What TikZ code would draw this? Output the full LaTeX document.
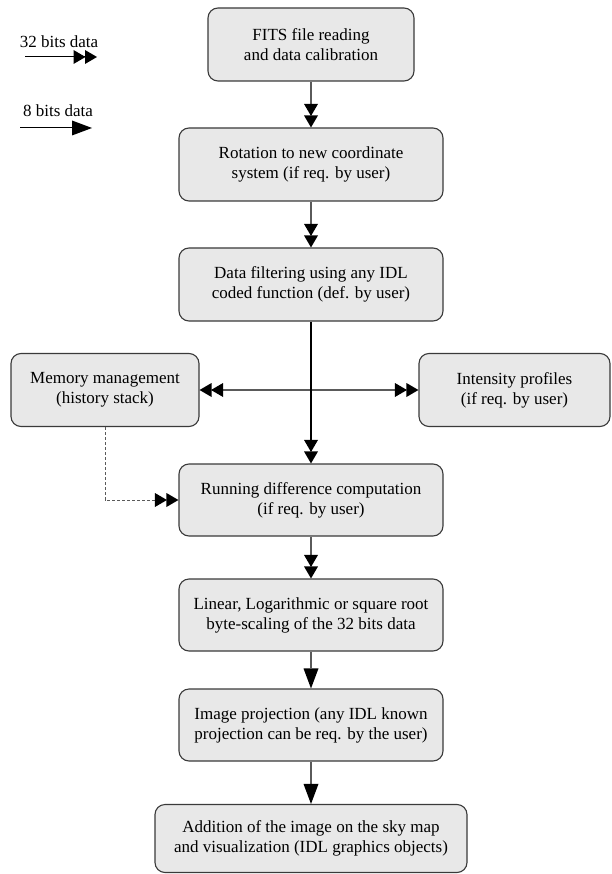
\documentclass[tikz,border=0pt]{standalone}
\usepackage{fontspec}
\setmainfont{Liberation Serif}
\usetikzlibrary{arrows.meta}
\definecolor{boxfill}{HTML}{E8E8E8}
\definecolor{boxline}{HTML}{3A3A3A}
\definecolor{conn}{HTML}{5A5A5A}
\begin{document}
\begin{tikzpicture}[x=1pt,y=-1pt,
  box/.style={draw=boxline, fill=boxfill, rounded corners=10pt, line width=1.1pt,
    align=center, inner sep=0pt, font=\fontsize{17}{20}\selectfont},
  lbl/.style={inner sep=0pt, font=\fontsize{17}{20}\selectfont},
  dtip/.tip={Triangle[length=12pt,width=14pt,sep=-0.5pt,color=black,fill=black,line width=0pt] Triangle[length=12pt,width=14pt,sep=0pt,color=black,fill=black,line width=0pt]},
  stip/.tip={Triangle[length=20pt,width=15pt,color=black,fill=black,line width=0pt]},
  connline/.style={draw=conn, line width=1.2pt},
  mainline/.style={draw=black, line width=2pt},
  dashline/.style={draw=conn, line width=0.9pt, dash pattern=on 3pt off 2pt},
  legline/.style={draw=black, line width=1pt}
]
\useasboundingbox (0,0) rectangle (611,874);

% legend
\node[lbl] (l32) at (59,42) {32 bits data};
\coordinate (l32a) at (25,57);
\coordinate (l32b) at (97,57);
\draw[legline,-dtip] (l32a) -- (l32b);
\node[lbl] (l8) at (58,111) {8 bits data};
\coordinate (l8a) at (20,128);
\coordinate (l8b) at (92,128);
\draw[legline,-stip] (l8a) -- (l8b);

% boxes
\node[box, minimum width=206pt, minimum height=73pt] (fits) at (311,44.5) {FITS file reading\\and data calibration};
\node[box, minimum width=264pt, minimum height=73pt] (rot) at (311,164.5) {Rotation to new coordinate\\system (if req. by user)};
\node[box, minimum width=264pt, minimum height=73pt] (filt) at (311,284.5) {Data filtering using any IDL\\coded function (def. by user)};
\node[box, minimum width=188pt, minimum height=73pt] (mem) at (105,390) {Memory management\\(history stack)};
\node[box, minimum width=191pt, minimum height=73pt] (inten) at (514.5,390) {Intensity profiles\\(if req. by user)};
\node[box, minimum width=264pt, minimum height=72pt] (run) at (311,500) {Running difference computation\\(if req. by user)};
\node[box, minimum width=264pt, minimum height=72pt] (lin) at (311,615) {Linear, Logarithmic or square root\\byte-scaling of the 32 bits data};
\node[box, minimum width=264pt, minimum height=72pt] (proj) at (311,725) {Image projection (any IDL known\\projection can be req. by the user)};
\node[box, minimum width=312pt, minimum height=68pt] (add) at (311,838.5) {Addition of the image on the sky map\\and visualization (IDL graphics objects)};

% connectors
\draw[connline,-dtip] (fits.south) -- (rot.north);
\draw[connline,-dtip] (rot.south) -- (filt.north);
\draw[connline,dtip-dtip] (mem.east) -- (inten.west);
\draw[mainline,-dtip] (filt.south) -- (run.north);
\draw[dashline,-dtip] (mem.south) |- (run.west);
\draw[connline,-dtip] (run.south) -- (lin.north);
\draw[connline,-stip] (lin.south) -- (proj.north);
\draw[connline,-stip] (proj.south) -- (add.north);
\end{tikzpicture}
\end{document}
